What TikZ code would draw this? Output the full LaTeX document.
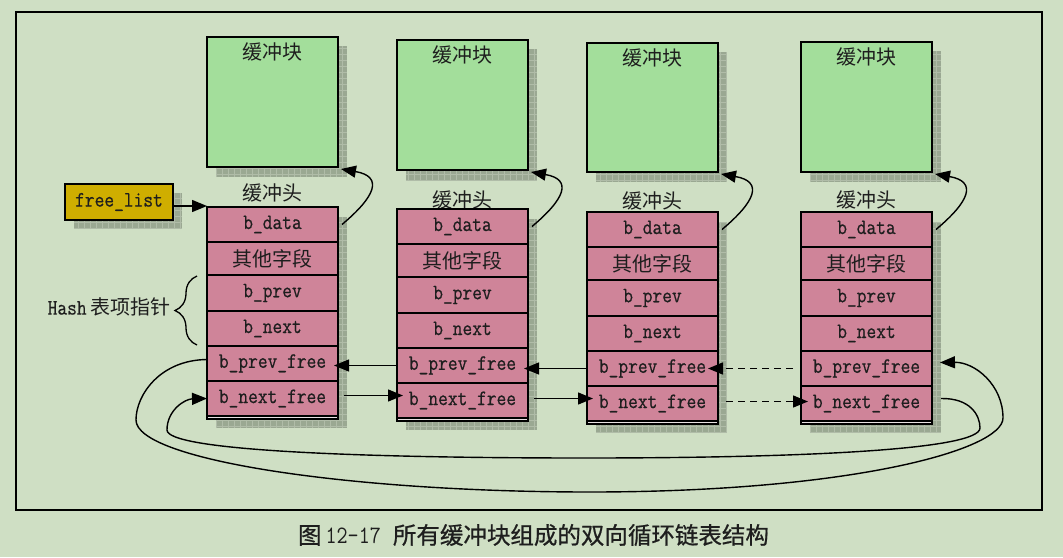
\documentclass[tikz,border=0pt]{standalone}
\usepackage{fontspec}
\usetikzlibrary{arrows.meta,decorations.pathreplacing}
\newfontfamily\cjk{Noto Sans CJK SC}
\newfontfamily\cjkcap{Noto Sans CJK SC}[FakeBold=0.7]
\newfontfamily\lblmono{Latin Modern Mono}[FakeStretch=0.86, FakeBold=0.6]
\newfontfamily\capmono{Latin Modern Mono}[FakeStretch=0.86]
\newcommand\monolbl{\lblmono\fontsize{22pt}{24pt}\selectfont}
\newcommand\cjklbl{\cjk\fontsize{20pt}{22pt}\selectfont}

\definecolor{bg}{HTML}{CFDFC4}
\definecolor{blockgreen}{HTML}{A3DE9B}
\definecolor{headpink}{HTML}{CF8499}
\definecolor{listgold}{HTML}{CFAE00}
\definecolor{shadowbase}{HTML}{9AA892}
\definecolor{shadowgrid}{HTML}{B0BCA8}
\definecolor{inkc}{HTML}{1E1E1E}
\definecolor{seam}{HTML}{E8E0E2}

% grey checkered drop shadow behind a box
\newcommand\dropshade[4]{%
  \fill[shadowbase] (#1,#2) rectangle (#3,#4);
  \draw[shadowgrid, line width=0.6pt, step=6pt] (#1,#2) grid (#3,#4);}

\tikzset{
  every node/.style={inner sep=0pt, outer sep=0pt, text=inkc},
  fieldrow/.style={draw=black, line width=1.3pt, fill=headpink,
    minimum width=131pt, anchor=north west, font=\monolbl},
  bufblock/.style={draw=black, line width=2.2pt, fill=blockgreen,
    minimum width=131pt, anchor=north west},
  listbox/.style={draw=black, line width=2.2pt, fill=listgold,
    minimum width=108pt, minimum height=36pt, anchor=north west, font=\monolbl},
  cjktext/.style={font=\cjklbl},
  link/.style={line width=1.4pt, -{Triangle[length=15pt,width=12pt]}},
  dashlink/.style={link, dash pattern=on 7pt off 5pt},
}

\begin{document}
\begin{tikzpicture}[x=1pt, y=-1pt]
  \useasboundingbox (0,0) rectangle (1063,557);
  \fill[bg] (0,0) rectangle (1063,557);
  \draw[line width=2pt] (16,12) rectangle (1042,510);

  % one column per buffer: block above, buffer head below
  \foreach \i/\x/\t/\bt/\bb/\hy in {1/207/207/37/167/193, 2/397/209/40/170/200,
                                     3/587/212/43/172/201, 4/801/212/42/172/200}{
    \dropshade{\x+9}{\bt+9}{\x+140}{\bb+10}
    \node[bufblock, minimum height=\bb-\bt] (blk\i) at (\x,\bt) {};
    \node[cjktext] (btitle\i) at (\x+65.5,\bt+15) {缓冲块};

    \dropshade{\x+9}{\t+10}{\x+140}{\t+221}
    \node[cjktext] (htitle\i) at (\x+65.5,\hy) {缓冲头};
    \node[fieldrow, minimum height=35pt] (data\i) at (\x,\t) {b\_data};
    \node[fieldrow, minimum height=33pt, font=\cjklbl] (other\i) at (data\i.south west) {其他字段};
    \node[fieldrow, minimum height=36pt] (prev\i) at (other\i.south west) {b\_prev};
    \node[fieldrow, minimum height=35pt] (next\i) at (prev\i.south west) {b\_next};
    \node[fieldrow, minimum height=35pt] (pfree\i) at (next\i.south west) {b\_prev\_free};
    \node[fieldrow, minimum height=35pt] (nfree\i) at (pfree\i.south west) {b\_next\_free};
    % double rule closing the head
    \fill[seam] (\x,\t+209) rectangle (\x+131,\t+212);
    \draw[line width=1.3pt] (\x,\t+209.5) -- (\x+131,\t+209.5);
    \draw[line width=2.2pt] (\x,\t) rectangle (\x+131,\t+212);

    % b_data points at its block
    \draw[link] ([xshift=4pt]data\i.east) to[out=40, in=-10, looseness=2]
      ([xshift=3pt,yshift=-2pt]blk\i.south east);
  }

  % free list head
  \dropshade{74}{193}{182}{229}
  \node[listbox] (flist) at (65,184) {free\_list};
  \draw[link] ([yshift=-4pt]flist.east) -- ([yshift=-4pt]flist.east -| data1.west);

  % hash pointer brace
  \draw[line width=1.3pt, decorate, decoration={brace, amplitude=22pt}]
    (197,345) -- (197,276);
  \node[anchor=east] (hashlbl) at (170,307) {{\monolbl Hash} {\cjklbl 表项指针}};

  % free-list links between neighbours
  \draw[link, shorten >=-4pt] (pfree2.west) -- (pfree2.west -| pfree1.east);
  \draw[link, shorten >=-4pt] (pfree3.west) -- (pfree3.west -| pfree2.east);
  \draw[dashlink, shorten >=-2pt] ([xshift=-8pt]pfree4.west) -- ([xshift=-8pt]pfree4.west -| pfree3.east);
  \draw[link] ([xshift=6pt,yshift=3pt]nfree1.east) -- ([xshift=6pt,yshift=3pt]nfree1.east -| nfree2.west);
  \draw[link] ([xshift=6pt,yshift=2pt]nfree2.east) -- ([xshift=6pt,yshift=2pt]nfree2.east -| nfree3.west);
  \draw[dashlink, shorten >=1pt] ([xshift=8pt,yshift=2pt]nfree3.east) -- ([xshift=8pt,yshift=2pt]nfree3.east -| nfree4.west);

  % wrap-around links closing the ring
  \draw[link] ([yshift=4pt]pfree1.west) .. controls (160,360) and (136,395) .. (136,420)
    .. controls (136,460) and (350,492) .. (590,492)
    .. controls (850,492) and (1003,450) .. (1003,418)
    .. controls (1003,385) and (975,362) .. ([xshift=8pt,yshift=6pt]pfree4.east);
  \draw[link] ([xshift=9pt,yshift=5pt]nfree4.east) .. controls (970,398) and (980,415) .. (980,428)
    .. controls (980,450) and (800,458) .. (585,458)
    .. controls (350,458) and (167,450) .. (167,430)
    .. controls (167,410) and (185,399) .. (nfree1.west);

  % caption
  \node (caption) at (533.5,535) {\cjkcap\fontsize{23.5pt}{25pt}\selectfont 图\hspace{4pt}{\capmono\fontsize{25pt}{25pt}\selectfont 12-17}\hspace{12pt}所有缓冲块组成的双向循环链表结构};
\end{tikzpicture}
\end{document}
